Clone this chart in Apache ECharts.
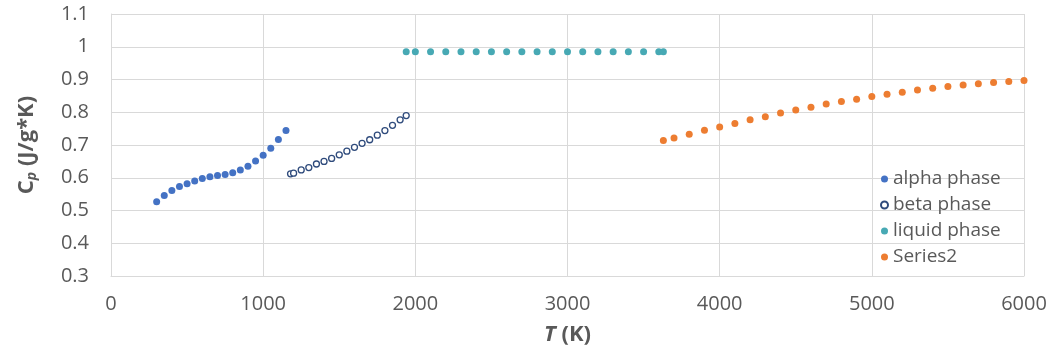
<!DOCTYPE html>
<html>
<head>
<meta charset="utf-8">
<script src="https://cdn.jsdelivr.net/npm/echarts@6/dist/echarts.min.js"></script>
<style>
html,body{margin:0;padding:0;background:#fff;}
#c{width:1051px;height:351px;}
</style>
</head>
<body>
<div id="c"></div>
<script>
var alphaT  = [300,350,400,450,500,550,600,650,700,750,800,850,900,950,1000,1050,1100,1150];
var alphaCp = [0.527,0.546,0.561,0.573,0.582,0.590,0.598,0.603,0.607,0.610,0.615,0.624,0.635,0.651,0.669,0.690,0.717,0.744];

var betaT  = [1180,1200,1250,1300,1350,1400,1450,1500,1550,1600,1650,1700,1750,1800,1850,1900,1940];
var betaCp = [0.612,0.614,0.624,0.631,0.642,0.650,0.659,0.670,0.681,0.693,0.705,0.716,0.730,0.744,0.760,0.777,0.790];

var liquidT  = [1940,2000,2100,2200,2300,2400,2500,2600,2700,2800,2900,3000,3100,3200,3300,3400,3500,3600,3630];
var liquidCp = [0.985,0.985,0.985,0.985,0.985,0.985,0.985,0.985,0.985,0.985,0.985,0.985,0.985,0.985,0.985,0.985,0.985,0.985,0.985];

var s2T  = [3630,3700,3800,3900,4000,4100,4200,4300,4400,4500,4600,4700,4800,4900,5000,5100,5200,5300,5400,5500,5600,5700,5800,5900,6000];
var s2Cp = [0.714,0.721,0.733,0.745,0.755,0.766,0.777,0.786,0.798,0.807,0.815,0.825,0.833,0.840,0.848,0.855,0.861,0.868,0.873,0.879,0.883,0.887,0.891,0.894,0.897];

var seriesNames = ['alpha phase','beta phase','liquid phase','Series2'];
var xTicks = {min:0, max:6000, interval:1000};
var yTicks = {min:0.3, max:1.1, interval:0.1};

function zip(a,b){ return a.map(function(v,i){ return [v,b[i]]; }); }

var FONT = '"Open Sans", "Noto Sans", sans-serif';
var chart = echarts.init(document.getElementById('c'), null, {renderer:'canvas'});
chart.setOption({
  animation:false,
  backgroundColor:'#ffffff',
  grid:{left:111, right:27, top:14, bottom:71, containLabel:false},
  legend:{
    orient:'vertical', left:875, top:164,
    itemWidth:7, itemHeight:7, itemGap:6,
    textStyle:{fontFamily:FONT, fontSize:19, color:'#595959', lineHeight:20},
    data:seriesNames
  },
  xAxis:{
    type:'value', min:xTicks.min, max:xTicks.max, interval:xTicks.interval,
    axisLine:{show:true, lineStyle:{color:'#d9d9d9', width:1}},
    axisTick:{show:false},
    splitLine:{show:true, lineStyle:{color:'#d9d9d9', width:1}},
    axisLabel:{fontFamily:FONT, fontSize:20, color:'#595959', margin:18,
      formatter:function(v){ return String(v); }},
    name:'{i|T}{n| (K)}', nameLocation:'middle', nameGap:48,
    nameTextStyle:{
      rich:{
        i:{fontFamily:FONT, fontSize:22, fontWeight:'bold', fontStyle:'italic', color:'#595959'},
        n:{fontFamily:FONT, fontSize:22, fontWeight:'bold', color:'#595959'}
      }
    }
  },
  yAxis:{
    type:'value', min:yTicks.min, max:yTicks.max, interval:yTicks.interval,
    axisLine:{show:true, lineStyle:{color:'#d9d9d9', width:1}},
    axisTick:{show:false},
    splitLine:{show:true, lineStyle:{color:'#d9d9d9', width:1}},
    axisLabel:{fontFamily:FONT, fontSize:20, color:'#595959', margin:22,
      formatter:function(v){ return String(Math.round(v*10)/10); }},
    name:'{n|C}{s|p}{n| (J/g*K)}', nameLocation:'middle', nameGap:72, nameRotate:90,
    nameTextStyle:{
      rich:{
        n:{fontFamily:FONT, fontSize:22, fontWeight:'bold', color:'#595959', verticalAlign:'middle'},
        s:{fontFamily:FONT, fontSize:14, fontWeight:'bold', fontStyle:'italic', color:'#595959', verticalAlign:'bottom', padding:[10,0,0,0]}
      }
    }
  },
  series:[
    {name:seriesNames[0], type:'scatter', symbol:'circle', symbolSize:7,
     itemStyle:{color:'#4472c4', opacity:1}, data:zip(alphaT, alphaCp)},
    {name:seriesNames[1], type:'scatter', symbol:'circle', symbolSize:6,
     itemStyle:{color:'#ffffff', borderColor:'#2f4b7c', borderWidth:1.3, opacity:1}, data:zip(betaT, betaCp)},
    {name:seriesNames[2], type:'scatter', symbol:'circle', symbolSize:7,
     itemStyle:{color:'#47a9b4', opacity:1}, data:zip(liquidT, liquidCp)},
    {name:seriesNames[3], type:'scatter', symbol:'circle', symbolSize:7,
     itemStyle:{color:'#ed7d31', opacity:1}, data:zip(s2T, s2Cp)}
  ]
});
</script>
</body>
</html>
